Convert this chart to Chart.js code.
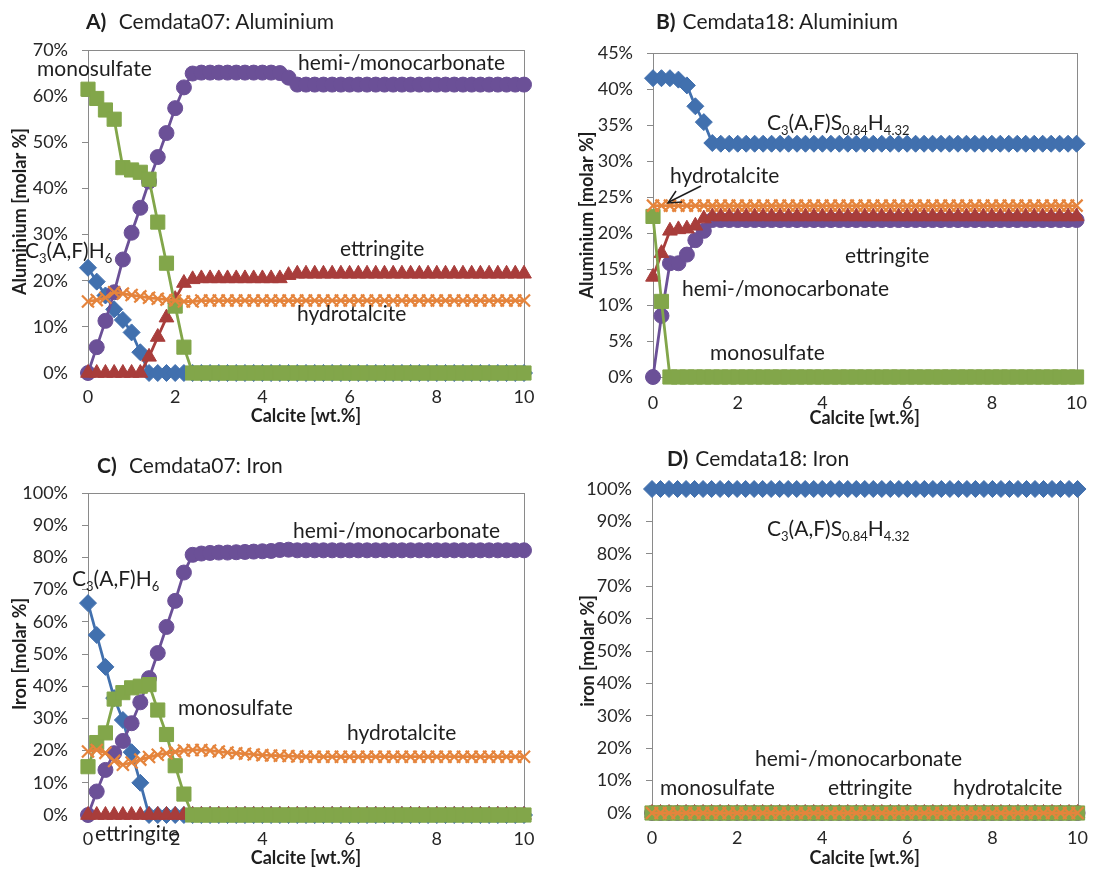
<!DOCTYPE html>
<html>
<head>
<meta charset="utf-8">
<title>Cemdata07 / Cemdata18: Al and Fe distribution vs calcite</title>
<script src="https://cdn.jsdelivr.net/npm/chart.js@4.4.0/dist/chart.umd.min.js"></script>
<style>
  body { margin: 0; background: #fff; }
  #page { position: relative; width: 1102px; height: 870px; overflow: hidden; font-family: Lato, "Open Sans", sans-serif; color: #1e1e1e; }
  .panel { position: absolute; width: 551px; height: 435px; }
  .note, .title { position: absolute; font-size: 21px; line-height: 24px; white-space: nowrap; }
  .note sub { font-size: 0.62em; vertical-align: -0.35em; line-height: 0; }
  .title b { margin-right: 7px; }
  svg { position: absolute; left: 0; top: 0; }
</style>
</head>
<body>
<div id="page">
  <div class="panel" style="left:0;top:0"><canvas id="chartA" width="551" height="435"></canvas></div>
  <div class="panel" style="left:551px;top:0"><canvas id="chartB" width="551" height="435"></canvas></div>
  <div class="panel" style="left:0;top:435px"><canvas id="chartC" width="551" height="435"></canvas></div>
  <div class="panel" style="left:551px;top:435px"><canvas id="chartD" width="551" height="435"></canvas></div>

  <!-- titles -->
  <div class="title" style="left:86px;top:9px"><b>A)</b> Cemdata07: Aluminium</div>
  <div class="title" style="left:656px;top:9px"><b>B)</b>Cemdata18: Aluminium</div>
  <div class="title" style="left:97px;top:453px"><b>C)</b> Cemdata07: Iron</div>
  <div class="title" style="left:667px;top:446px"><b>D)</b>Cemdata18: Iron</div>

  <!-- A labels -->
  <div class="note" style="left:37px;top:56px">monosulfate</div>
  <div class="note" style="left:298px;top:50px">hemi-/monocarbonate</div>
  <div class="note" style="left:25px;top:238px">C<sub>3</sub>(A,F)H<sub>6</sub></div>
  <div class="note" style="left:340px;top:236px">ettringite</div>
  <div class="note" style="left:297px;top:301px">hydrotalcite</div>

  <!-- B labels -->
  <div class="note" style="left:767px;top:110px">C<sub>3</sub>(A,F)S<sub>0.84</sub>H<sub>4.32</sub></div>
  <div class="note" style="left:670px;top:163px">hydrotalcite</div>
  <div class="note" style="left:845px;top:243px">ettringite</div>
  <div class="note" style="left:682px;top:276px">hemi-/monocarbonate</div>
  <div class="note" style="left:710px;top:340px">monosulfate</div>

  <!-- C labels -->
  <div class="note" style="left:72px;top:566px">C<sub>3</sub>(A,F)H<sub>6</sub></div>
  <div class="note" style="left:293px;top:518px">hemi-/monocarbonate</div>
  <div class="note" style="left:178px;top:695px">monosulfate</div>
  <div class="note" style="left:347px;top:720px">hydrotalcite</div>
  <div class="note" style="left:95px;top:821px">ettringite</div>

  <!-- D labels -->
  <div class="note" style="left:767px;top:516px">C<sub>3</sub>(A,F)S<sub>0.84</sub>H<sub>4.32</sub></div>
  <div class="note" style="left:755px;top:746px">hemi-/monocarbonate</div>
  <div class="note" style="left:660px;top:775px">monosulfate</div>
  <div class="note" style="left:828px;top:775px">ettringite</div>
  <div class="note" style="left:953px;top:775px">hydrotalcite</div>

  <svg width="1102" height="870">
    <line x1="701" y1="186" x2="669" y2="202" stroke="#1e1e1e" stroke-width="1.5"/>
    <polyline points="676,191 668,203 682,202" fill="none" stroke="#1e1e1e" stroke-width="1.5"/>
  </svg>
</div>

<script>
    "use strict";

    // x axis: calcite addition [wt.%]
    const calcite = [0, 0.2, 0.4, 0.6, 0.8, 1, 1.2, 1.4, 1.6, 1.8,
        2, 2.2, 2.4, 2.6, 2.8, 3, 3.2, 3.4, 3.6, 3.8,
        4, 4.2, 4.4, 4.6, 4.8, 5, 5.2, 5.4, 5.6, 5.8,
        6, 6.2, 6.4, 6.6, 6.8, 7, 7.2, 7.4, 7.6, 7.8,
        8, 8.2, 8.4, 8.6, 8.8, 9, 9.2, 9.4, 9.6, 9.8, 10];

    // A) Cemdata07: Aluminium [molar %]
    const A_c3ah6 = [22.8, 19.8, 16.8, 13.8, 11.5, 8.8, 4.5, 0, 0, 0,
        0, 0, 0, 0, 0, 0, 0, 0, 0, 0,
        0, 0, 0, 0, 0, 0, 0, 0, 0, 0,
        0, 0, 0, 0, 0, 0, 0, 0, 0, 0,
        0, 0, 0, 0, 0, 0, 0, 0, 0, 0, 0];
    const A_ettringite = [0, 0, 0, 0, 0, 0, 0, 3.5, 7.8, 12,
        16, 19.5, 20.3, 20.5, 20.5, 20.5, 20.5, 20.5, 20.5, 20.5,
        20.5, 20.5, 20.5, 21.2, 21.5, 21.5, 21.5, 21.5, 21.5, 21.5,
        21.5, 21.5, 21.5, 21.5, 21.5, 21.5, 21.5, 21.5, 21.5, 21.5,
        21.5, 21.5, 21.5, 21.5, 21.5, 21.5, 21.5, 21.5, 21.5, 21.5, 21.5];
    const A_monosulfate = [61.5, 59.5, 57, 55, 44.5, 44, 43.5, 42, 32.7, 23.8,
        14.5, 5.6, 0, 0, 0, 0, 0, 0, 0, 0,
        0, 0, 0, 0, 0, 0, 0, 0, 0, 0,
        0, 0, 0, 0, 0, 0, 0, 0, 0, 0,
        0, 0, 0, 0, 0, 0, 0, 0, 0, 0, 0];
    const A_hemimono = [0, 5.6, 11.3, 17.5, 24.6, 30.4, 35.8, 41.5, 46.8, 52,
        57.4, 61.9, 64.9, 65.1, 65.1, 65.1, 65.1, 65.1, 65.1, 65.1,
        65.1, 65.1, 65, 64, 62.5, 62.5, 62.5, 62.5, 62.5, 62.5,
        62.5, 62.5, 62.5, 62.5, 62.5, 62.5, 62.5, 62.5, 62.5, 62.5,
        62.5, 62.5, 62.5, 62.5, 62.5, 62.5, 62.5, 62.5, 62.5, 62.5, 62.5];
    const A_hydrotalcite = [15.5, 15.8, 16.3, 17.5, 17.2, 16.9, 16.6, 16.3, 16.1, 15.9,
        15.7, 15.5, 15.5, 15.7, 15.7, 15.7, 15.7, 15.7, 15.7, 15.7,
        15.7, 15.7, 15.7, 15.7, 15.7, 15.7, 15.7, 15.7, 15.7, 15.7,
        15.7, 15.7, 15.7, 15.7, 15.7, 15.7, 15.7, 15.7, 15.7, 15.7,
        15.7, 15.7, 15.7, 15.7, 15.7, 15.7, 15.7, 15.7, 15.7, 15.7, 15.7];

    // B) Cemdata18: Aluminium [molar %]
    const B_c3afs = [41.5, 41.5, 41.5, 41.3, 40.5, 37.6, 35.4, 32.5, 32.4, 32.4,
        32.4, 32.4, 32.4, 32.4, 32.4, 32.4, 32.4, 32.4, 32.4, 32.4,
        32.4, 32.4, 32.4, 32.4, 32.4, 32.4, 32.4, 32.4, 32.4, 32.4,
        32.4, 32.4, 32.4, 32.4, 32.4, 32.4, 32.4, 32.4, 32.4, 32.4,
        32.4, 32.4, 32.4, 32.4, 32.4, 32.4, 32.4, 32.4, 32.4, 32.4, 32.4];
    const B_ettringite = [13.9, 17.2, 20.3, 20.5, 20.6, 21, 22, 22.3, 22.3, 22.3,
        22.3, 22.3, 22.3, 22.3, 22.3, 22.3, 22.3, 22.3, 22.3, 22.3,
        22.3, 22.3, 22.3, 22.3, 22.3, 22.3, 22.3, 22.3, 22.3, 22.3,
        22.3, 22.3, 22.3, 22.3, 22.3, 22.3, 22.3, 22.3, 22.3, 22.3,
        22.3, 22.3, 22.3, 22.3, 22.3, 22.3, 22.3, 22.3, 22.3, 22.3, 22.3];
    const B_monosulfate = [22.3, 10.5, 0, 0, 0, 0, 0, 0, 0, 0,
        0, 0, 0, 0, 0, 0, 0, 0, 0, 0,
        0, 0, 0, 0, 0, 0, 0, 0, 0, 0,
        0, 0, 0, 0, 0, 0, 0, 0, 0, 0,
        0, 0, 0, 0, 0, 0, 0, 0, 0, 0, 0];
    const B_hemimono = [0, 8.5, 15.8, 15.8, 17, 19, 20.3, 21.8, 21.8, 21.8,
        21.8, 21.8, 21.8, 21.8, 21.8, 21.8, 21.8, 21.8, 21.8, 21.8,
        21.8, 21.8, 21.8, 21.8, 21.8, 21.8, 21.8, 21.8, 21.8, 21.8,
        21.8, 21.8, 21.8, 21.8, 21.8, 21.8, 21.8, 21.8, 21.8, 21.8,
        21.8, 21.8, 21.8, 21.8, 21.8, 21.8, 21.8, 21.8, 21.8, 21.8, 21.8];
    const B_hydrotalcite = [23.8, 23.8, 23.8, 23.8, 23.8, 23.8, 23.8, 23.8, 23.8, 23.8,
        23.8, 23.8, 23.8, 23.8, 23.8, 23.8, 23.8, 23.8, 23.8, 23.8,
        23.8, 23.8, 23.8, 23.8, 23.8, 23.8, 23.8, 23.8, 23.8, 23.8,
        23.8, 23.8, 23.8, 23.8, 23.8, 23.8, 23.8, 23.8, 23.8, 23.8,
        23.8, 23.8, 23.8, 23.8, 23.8, 23.8, 23.8, 23.8, 23.8, 23.8, 23.8];

    // C) Cemdata07: Iron [molar %]
    const C_c3ah6 = [65.8, 55.9, 46, 36.3, 29.5, 19.5, 10, 0, 0, 0,
        0, 0, 0, 0, 0, 0, 0, 0, 0, 0,
        0, 0, 0, 0, 0, 0, 0, 0, 0, 0,
        0, 0, 0, 0, 0, 0, 0, 0, 0, 0,
        0, 0, 0, 0, 0, 0, 0, 0, 0, 0, 0];
    const C_ettringite = [0, 0, 0, 0, 0, 0, 0, 0, 0, 0,
        0, 0, 0, 0, 0, 0, 0, 0, 0, 0,
        0, 0, 0, 0, 0, 0, 0, 0, 0, 0,
        0, 0, 0, 0, 0, 0, 0, 0, 0, 0,
        0, 0, 0, 0, 0, 0, 0, 0, 0, 0, 0];
    const C_monosulfate = [15, 22.5, 25.5, 36, 38, 39.5, 40, 40.5, 32.6, 25,
        15.3, 6.5, 0, 0, 0, 0, 0, 0, 0, 0,
        0, 0, 0, 0, 0, 0, 0, 0, 0, 0,
        0, 0, 0, 0, 0, 0, 0, 0, 0, 0,
        0, 0, 0, 0, 0, 0, 0, 0, 0, 0, 0];
    const C_hemimono = [0, 7.3, 14, 19.2, 23, 28.5, 35, 42.5, 50.3, 58.4,
        66.5, 75.3, 80.8, 81.2, 81.4, 81.5, 81.5, 81.6, 81.7, 81.8,
        81.9, 82, 82.3, 82.4, 82.2, 82.2, 82.2, 82.2, 82.2, 82.2,
        82.2, 82.2, 82.2, 82.2, 82.2, 82.2, 82.2, 82.2, 82.2, 82.2,
        82.2, 82.2, 82.2, 82.2, 82.2, 82.2, 82.2, 82.2, 82.2, 82.2, 82.2];
    const C_hydrotalcite = [19.7, 20.2, 19.3, 16.8, 15.6, 16.3, 17.2, 18, 18.7, 19.2,
        19.6, 20, 20.2, 20.2, 20, 19.7, 19.4, 19.2, 19, 18.8,
        18.6, 18.5, 18.4, 18.3, 18.2, 18.1, 18.1, 18.1, 18.1, 18.1,
        18.1, 18.1, 18.1, 18.1, 18.1, 18.1, 18.1, 18.1, 18.1, 18.1,
        18.1, 18.1, 18.1, 18.1, 18.1, 18.1, 18.1, 18.1, 18.1, 18.1, 18.1];

    // D) Cemdata18: Iron [molar %]
    const D_c3afs = [100, 100, 100, 100, 100, 100, 100, 100, 100, 100,
        100, 100, 100, 100, 100, 100, 100, 100, 100, 100,
        100, 100, 100, 100, 100, 100, 100, 100, 100, 100,
        100, 100, 100, 100, 100, 100, 100, 100, 100, 100,
        100, 100, 100, 100, 100, 100, 100, 100, 100, 100, 100];
    const D_others = [0, 0, 0, 0, 0, 0, 0, 0, 0, 0,
        0, 0, 0, 0, 0, 0, 0, 0, 0, 0,
        0, 0, 0, 0, 0, 0, 0, 0, 0, 0,
        0, 0, 0, 0, 0, 0, 0, 0, 0, 0,
        0, 0, 0, 0, 0, 0, 0, 0, 0, 0, 0];

    // Colors
    const c_blue = "#4170AE";
    const c_red = "#A83D3B";
    const c_green = "#82A64A";
    const c_purple = "#6B5097";
    const c_orange = "#E5843C";
    const c_text = "#1e1e1e";

    Chart.defaults.font.family = "Lato, 'Open Sans', sans-serif";
    Chart.defaults.color = c_text;

    // gray frame round the plot area
    const plotBox = {
        id: "plotBox",
        beforeDatasetsDraw(chart) {
            const a = chart.chartArea;
            const ctx = chart.ctx;
            ctx.save();
            ctx.strokeStyle = "#8a8a8a";
            ctx.lineWidth = 1;
            ctx.strokeRect(Math.round(a.left) + 0.5, Math.round(a.top) + 0.5,
                Math.round(a.right - a.left), Math.round(a.bottom - a.top));
            ctx.restore();
        },
    };

    function series(label, data, color, style, radius) {
        return {
            label: label,
            data: data,
            borderColor: color,
            backgroundColor: color,
            pointBackgroundColor: color,
            pointBorderColor: color,
            pointStyle: style,
            pointRadius: radius,
            pointBorderWidth: style === "crossRot" ? 2.2 : 1,
            borderWidth: 2.8,
            tension: 0,
            clip: false,
        };
    }

    // first dataset is painted on top
    function phases(c3, ettr, mono, hemi, ht, c3Name) {
        return [
            series("hydrotalcite", ht, c_orange, "crossRot", 8.5),
            series("monosulfate", mono, c_green, "rect", 10),
            series("ettringite", ettr, c_red, "triangle", 8.5),
            series("hemi-/monocarbonate", hemi, c_purple, "circle", 7.5),
            series(c3Name, c3, c_blue, "rectRot", 8.5),
        ];
    }

    function makePanel(id, box, yMax, yStep, yTitle, pads, datasets) {
        const canvas = document.getElementById(id);
        return new Chart(canvas.getContext("2d"), {
            type: "line",
            data: { labels: calcite, datasets: datasets },
            options: {
                responsive: false,
                animation: false,
                layout: { padding: { left: 0, top: box.top, right: 551 - box.right, bottom: 0 } },
                plugins: { legend: { display: false }, tooltip: { enabled: false } },
                scales: {
                    x: {
                        type: "linear",
                        min: 0,
                        max: 10,
                        afterFit: (s) => { s.height = 435 - box.bottom; },
                        ticks: { stepSize: 2, padding: pads.xTick, font: { size: 18 }, color: "#262626" },
                        grid: { drawOnChartArea: false, drawTicks: false },
                        border: { display: true, color: "#8a8a8a" },
                        title: {
                            display: true,
                            text: "Calcite [wt.%]",
                            font: { size: 18, weight: "bold" },
                            padding: { top: 0, bottom: pads.xTitle },
                        },
                    },
                    y: {
                        min: 0,
                        max: yMax,
                        afterFit: (s) => { s.width = box.left; },
                        ticks: {
                            stepSize: yStep,
                            padding: 14,
                            font: { size: 18 },
                            color: "#262626",
                            callback: (v) => v + "%",
                        },
                        grid: { drawOnChartArea: false, drawTicks: true, tickLength: 6, color: "#8a8a8a" },
                        border: { display: true, color: "#8a8a8a" },
                        title: {
                            display: true,
                            text: yTitle,
                            font: { size: 18, weight: "bold" },
                            padding: { top: pads.yTitle, bottom: 0 },
                        },
                    },
                },
            },
            plugins: [plotBox],
        });
    }

    makePanel("chartA", { left: 88, right: 524, top: 50, bottom: 373 }, 70, 10,
        "Aluminium [molar %]", { xTick: 13, xTitle: 8, yTitle: 9 },
        phases(A_c3ah6, A_ettringite, A_monosulfate, A_hemimono, A_hydrotalcite, "C3(A,F)H6"));

    makePanel("chartB", { left: 102, right: 539, top: 53, bottom: 377 }, 45, 5,
        "Aluminium [molar %]", { xTick: 15, xTitle: 6, yTitle: 25 },
        phases(B_c3afs, B_ettringite, B_monosulfate, B_hemimono, B_hydrotalcite, "C3(A,F)S0.84H4.32"));

    makePanel("chartC", { left: 88, right: 524, top: 58, bottom: 380 }, 100, 10,
        "Iron [molar %]", { xTick: 13, xTitle: 1, yTitle: 9 },
        phases(C_c3ah6, C_ettringite, C_monosulfate, C_hemimono, C_hydrotalcite, "C3(A,F)H6"));

    makePanel("chartD", { left: 101, right: 537, top: 54, bottom: 378 }, 100, 10,
        "iron [molar %]", { xTick: 14, xTitle: 1, yTitle: 26 },
        phases(D_c3afs, D_others, D_others, D_others, D_others, "C3(A,F)S0.84H4.32"));
</script>
</body>
</html>
